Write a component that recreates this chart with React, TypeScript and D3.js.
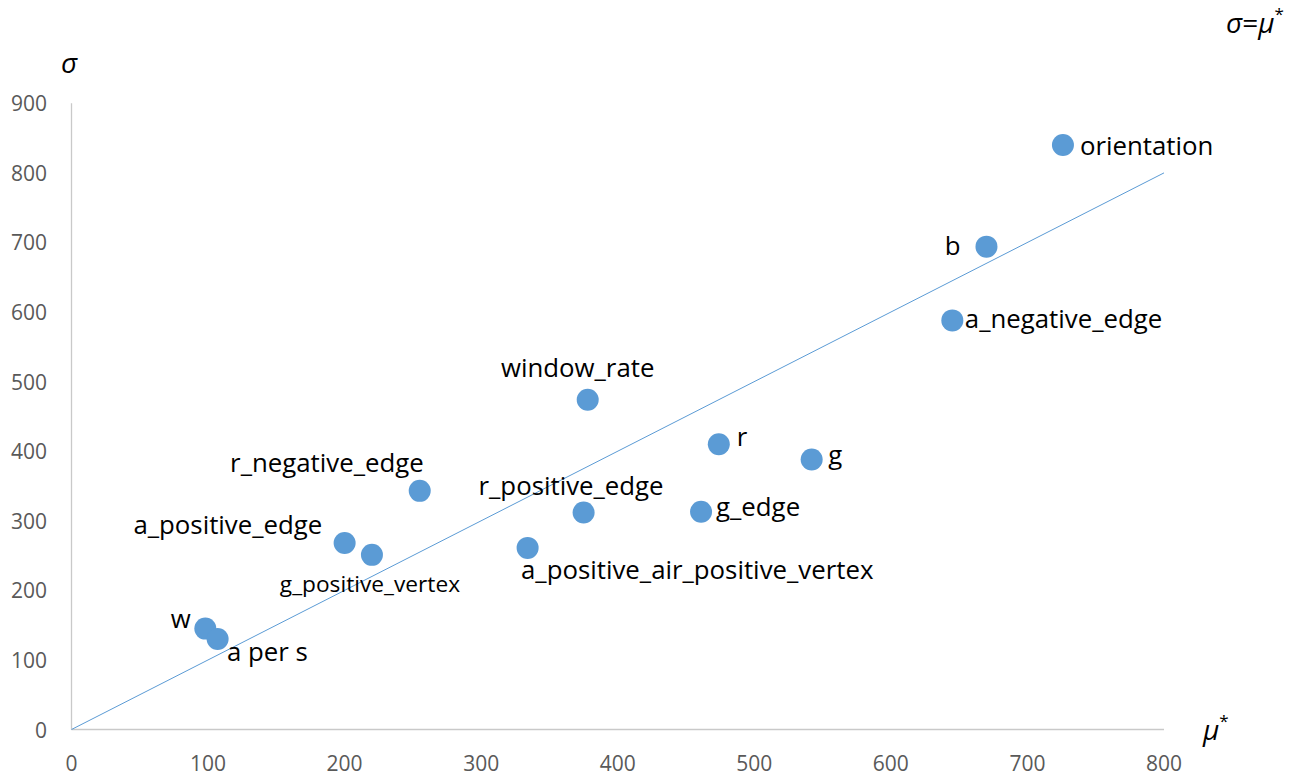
import React from "react";
import * as d3 from "d3";

// ---- data ----
const names = [
  "orientation",
  "b",
  "a_negative_edge",
  "window_rate",
  "r",
  "g",
  "r_negative_edge",
  "r_positive_edge",
  "g_edge",
  "a_positive_edge",
  "g_positive_vertex",
  "a_positive_air_positive_vertex",
  "w",
  "a per s",
];
const muStar = [726, 670, 645, 378, 474, 542, 255, 375, 461, 200, 220, 334, 98, 107];
const sigma = [840, 694, 588, 474, 410, 388, 343, 312, 313, 268, 251, 261, 145, 130];
const xTicks = [0, 100, 200, 300, 400, 500, 600, 700, 800];
const yTicks = [0, 100, 200, 300, 400, 500, 600, 700, 800, 900];
const refLine = [
  [0, 0],
  [800, 800],
];

// ---- layout (label placement relative to marker) ----
type Lab = { anchor: string; dx: number; dy: number; size?: number };
const labelLayout: Record<string, Lab> = {
  orientation: { anchor: "start", dx: 17, dy: 10 },
  b: { anchor: "end", dx: -26, dy: 8.5 },
  a_negative_edge: { anchor: "start", dx: 12.5, dy: 8 },
  window_rate: { anchor: "middle", dx: -10, dy: -22.7 },
  r: { anchor: "start", dx: 18, dy: 2 },
  g: { anchor: "start", dx: 16.5, dy: 4 },
  r_negative_edge: { anchor: "end", dx: 4, dy: -19.3 },
  r_positive_edge: { anchor: "end", dx: 80, dy: -17 },
  g_edge: { anchor: "start", dx: 15, dy: 4.5 },
  a_positive_edge: { anchor: "end", dx: -22.3, dy: -8.7 },
  g_positive_vertex: { anchor: "middle", dx: -2, dy: 36.7, size: 22.7 },
  a_positive_air_positive_vertex: { anchor: "start", dx: -6.6, dy: 31 },
  w: { anchor: "end", dx: -14.6, dy: -1 },
  "a per s": { anchor: "start", dx: 9.4, dy: 22 },
};

const W = 1305;
const H = 778;
const FONT = "'Open Sans', 'Liberation Sans', sans-serif";
const BLUE = "#5B9BD5";

export default function App() {
  const x = d3.scaleLinear().domain([0, 800]).range([71.5, 1164]);
  const y = d3.scaleLinear().domain([0, 900]).range([729.5, 103.3]);
  const line = d3
    .line<number[]>()
    .x((d) => x(d[0]))
    .y((d) => y(d[1]));

  return (
    <svg
      width={W}
      height={H}
      style={{ position: "absolute", left: 0, top: 0, background: "#fff" }}
      fontFamily={FONT}
    >
      <rect width={W} height={H} fill="#fff" />
      {/* axes */}
      <line x1={x(0)} x2={x(0)} y1={y(0)} y2={y(900)} stroke="#c9c9c9" strokeWidth={1.3} />
      <line x1={x(0)} x2={x(800)} y1={y(0)} y2={y(0)} stroke="#c9c9c9" strokeWidth={1.3} />
      {/* tick labels */}
      {yTicks.map((t) => (
        <text key={"y" + t} x={47} y={y(t) + 8} textAnchor="end" fontSize={21} fill="#595959">
          {t}
        </text>
      ))}
      {xTicks.map((t) => (
        <text key={"x" + t} x={x(t)} y={770.5} textAnchor="middle" fontSize={21} fill="#595959">
          {t}
        </text>
      ))}
      {/* reference line sigma = mu* */}
      <path d={line(refLine) || ""} fill="none" stroke={BLUE} strokeWidth={1} />
      {/* points */}
      {names.map((n, i) => (
        <circle key={"c" + n} cx={x(muStar[i])} cy={y(sigma[i])} r={11} fill={BLUE} />
      ))}
      {/* labels */}
      {names.map((n, i) => {
        const L = labelLayout[n];
        return (
          <text
            key={"t" + n}
            x={x(muStar[i]) + L.dx}
            y={y(sigma[i]) + L.dy}
            textAnchor={L.anchor}
            fontSize={L.size ?? 25.8}
            fill="#000"
          >
            {n}
          </text>
        );
      })}
      {/* axis titles */}
      <text x={61} y={73} fontSize={28} fontStyle="italic" fill="#000">
        σ
      </text>
      <text x={1203} y={740} fontSize={28} fontStyle="italic" fill="#000">
        μ
        <tspan fontSize={17} dy={-13} fontStyle="normal">*</tspan>
      </text>
      <text x={1226} y={33} fontSize={28} fill="#000">
        <tspan fontStyle="italic">σ</tspan>=<tspan fontStyle="italic">μ</tspan>
        <tspan fontSize={17} dy={-13}>*</tspan>
      </text>
    </svg>
  );
}
